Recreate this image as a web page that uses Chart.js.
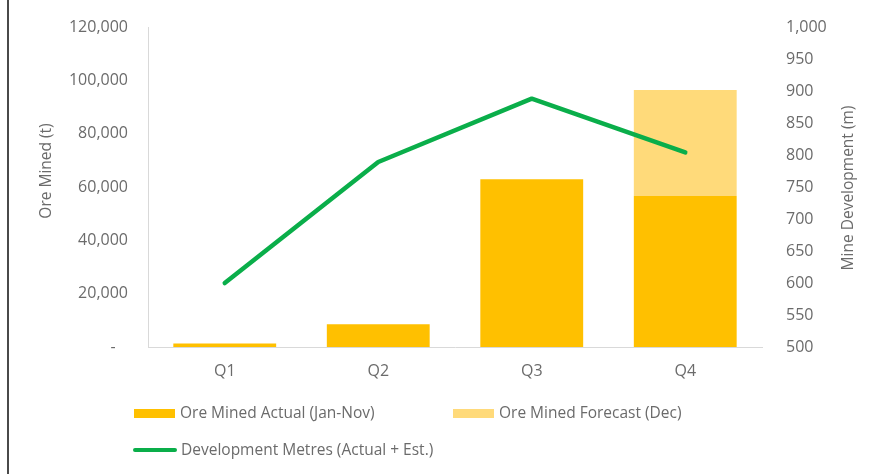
<!DOCTYPE html>
<html>
<head>
<meta charset="utf-8">
<script src="https://cdn.jsdelivr.net/npm/chart.js@4/dist/chart.umd.min.js"></script>
<style>
  html, body { margin: 0; padding: 0; background: #fff; }
  #wrap { position: relative; width: 877px; height: 474px; overflow: hidden; font-family: "Open Sans", sans-serif; }
  #edge { position: absolute; left: 7px; top: 0; width: 2px; height: 474px; background: #4a4a4a; }
  canvas { position: absolute; left: 0; top: 0; }
  .lg { position: absolute; font-size: 15.5px; color: #6b6b6b; white-space: nowrap; line-height: 18px; }
  .sw { position: absolute; }
</style>
</head>
<body>
<div id="wrap">
  <canvas id="c" width="877" height="474"></canvas>
  <div id="edge"></div>
</div>
<script>
const categories = ['Q1', 'Q2', 'Q3', 'Q4'];
const oreActual = [1300, 8500, 62900, 56600];
const oreForecast = [0, 0, 0, 39800];
const devMetres = [600, 789, 888, 804];
const seriesNames = ['Ore Mined Actual (Jan-Nov)', 'Ore Mined Forecast (Dec)', 'Development Metres (Actual + Est.)'];
const leftTitle = 'Ore Mined (t)';
const rightTitle = 'Mine Development (m)';

const colActual = '#FFC000';
const colForecast = '#FFDA7A';
const colLine = '#0AAE4A';
const textCol = '#6b6b6b';
const FONT = '"Open Sans", sans-serif';

const titlePlugin = {
  id: 'axisTitles',
  afterDraw(chart) {
    const ctx = chart.ctx;
    [[leftTitle, 47, 171], [rightTitle, 849, 188]].forEach(([txt, x, y]) => {
      ctx.save();
      ctx.fillStyle = textCol;
      ctx.font = '15.5px ' + FONT;
      ctx.textAlign = 'center';
      ctx.textBaseline = 'middle';
      ctx.translate(x, y);
      ctx.rotate(-Math.PI / 2);
      ctx.fillText(txt, 0, 0);
      ctx.restore();
    });
  }
};

new Chart(document.getElementById('c'), {
  data: {
    labels: categories,
    datasets: [
      { type: 'line', label: seriesNames[2], data: devMetres, yAxisID: 'y2', borderColor: colLine, borderWidth: 4.5,
        pointRadius: 0, tension: 0, borderCapStyle: 'round', borderJoinStyle: 'round', order: 0 },
      { type: 'bar', label: seriesNames[0], data: oreActual, yAxisID: 'y', backgroundColor: colActual, stack: 's', order: 1,
        categoryPercentage: 1, barPercentage: 0.67 },
      { type: 'bar', label: seriesNames[1], data: oreForecast, yAxisID: 'y', backgroundColor: colForecast, stack: 's', order: 1,
        categoryPercentage: 1, barPercentage: 0.67 }
    ]
  },
  options: {
    responsive: false,
    animation: false,
    devicePixelRatio: 1,
    layout: { padding: { top: 27, left: 0, right: 0, bottom: 0 }, autoPadding: false },
    plugins: { legend: { display: false }, tooltip: { enabled: false } },
    scales: {
      x: {
        stacked: true,
        grid: { display: false, drawTicks: false },
        border: { display: true, color: '#d9d9d9', width: 1 },
        ticks: { color: textCol, font: { family: FONT, size: 16 }, padding: 15 },
        afterFit(s) { s.height = 127; s.paddingLeft = 0; s.paddingRight = 0; }
      },
      y: {
        position: 'left', stacked: true, min: 0, max: 120000,
        grid: { display: false, drawTicks: false },
        border: { display: true, color: '#d9d9d9', width: 1 },
        ticks: { stepSize: 20000, color: textCol, font: { family: FONT, size: 16 }, padding: 20,
          callback: v => v === 0 ? '-   ' : v.toLocaleString('en-US') },
        afterFit(s) { s.width = 148; s.paddingTop = 0; s.paddingBottom = 0; }
      },
      y2: {
        position: 'right', min: 500, max: 1000,
        grid: { display: false, drawTicks: false },
        border: { display: false },
        ticks: { stepSize: 50, color: textCol, font: { family: FONT, size: 16 }, padding: 24,
          callback: v => v.toLocaleString('en-US') },
        afterFit(s) { s.width = 115; s.paddingTop = 0; s.paddingBottom = 0; }
      }
    }
  },
  plugins: [titlePlugin]
});

// HTML legend built from series names
const wrap = document.getElementById('wrap');
const legendItems = [
  { name: seriesNames[0], kind: 'box', color: colActual, x: 134, y: 413 },
  { name: seriesNames[1], kind: 'box', color: colForecast, x: 453, y: 413 },
  { name: seriesNames[2], kind: 'line', color: colLine, x: 133, y: 450 }
];
legendItems.forEach(it => {
  const sw = document.createElement('div');
  sw.className = 'sw';
  sw.style.left = it.x + 'px';
  sw.style.background = it.color;
  if (it.kind === 'box') {
    sw.style.width = '41px'; sw.style.height = '9px'; sw.style.top = (it.y - 4.5) + 'px';
  } else {
    sw.style.width = '44px'; sw.style.height = '4px'; sw.style.top = (it.y - 2) + 'px'; sw.style.borderRadius = '2px';
  }
  wrap.appendChild(sw);
  const t = document.createElement('div');
  t.className = 'lg';
  t.textContent = it.name;
  t.style.left = (it.x + (it.kind === 'box' ? 46 : 48)) + 'px';
  t.style.top = (it.y - 10) + 'px';
  wrap.appendChild(t);
});
</script>
</body>
</html>
